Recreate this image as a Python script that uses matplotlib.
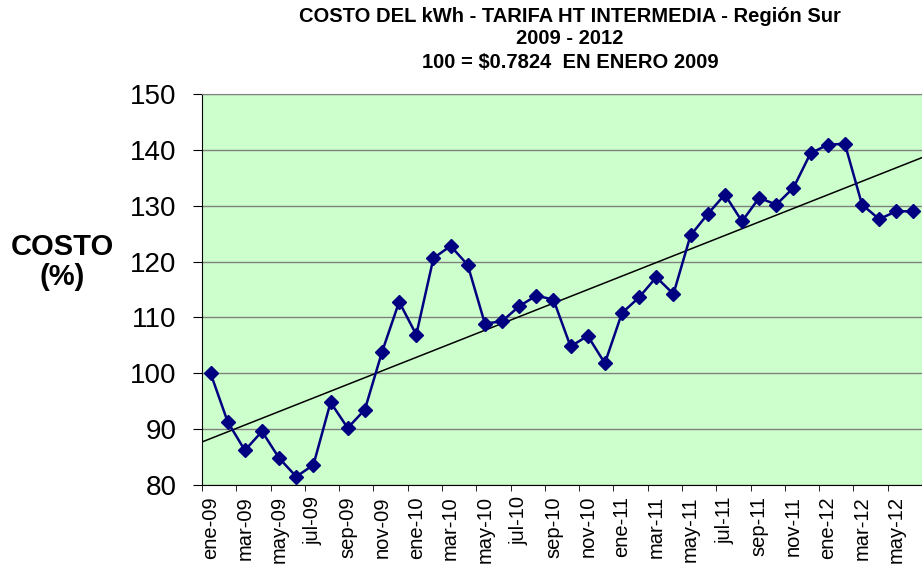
import numpy as np
import matplotlib
matplotlib.use("Agg")
import matplotlib.pyplot as plt

plt.rcParams['font.family'] = ['Liberation Sans', 'DejaVu Sans']

# meses ene-09 .. jun-12
meses = ['ene', 'feb', 'mar', 'abr', 'may', 'jun',
         'jul', 'ago', 'sep', 'oct', 'nov', 'dic']
anios = ['09', '10', '11', '12']
etiquetas = [m + '-' + a for a in anios for m in meses][:42]

costo = [100.0, 91.3, 86.2, 89.6, 84.8, 81.5, 83.6, 94.8, 90.2, 93.5,
         103.8, 112.8, 106.9, 120.6, 122.8, 119.4, 108.9, 109.3, 112.0, 113.9,
         113.2, 104.8, 106.7, 101.8, 110.8, 113.6, 117.2, 114.2, 124.7, 128.5,
         132.0, 127.2, 131.4, 130.2, 133.2, 139.4, 140.9, 141.1, 130.2, 127.6,
         129.0, 129.0]

x = np.arange(len(costo))
coef = np.polyfit(x, costo, 1)

fig = plt.figure(figsize=(9.22, 5.64), dpi=100)
ax = fig.add_axes([202 / 922, 79 / 564, 1 - 202 / 922, (485 - 94) / 564])
ax.set_facecolor('#CCFFCC')

xt = np.array([-0.5, 42])
ax.plot(xt, np.polyval(coef, xt), color='black', lw=1.1, zorder=2)
ax.plot(x, costo, color='#000080', lw=1.8, marker='D', markersize=6.8,
        markerfacecolor='#000080', markeredgecolor='#000080', zorder=3,
        clip_on=False)

ax.set_xlim(-0.5, 41.0)
ax.set_ylim(80, 150)
ax.set_yticks(range(80, 151, 10))
ax.yaxis.grid(True, color='#808080', lw=1)
ax.set_axisbelow(True)
ax.tick_params(axis='y', labelsize=20, length=6.5, direction='out', pad=12)

ax.set_xticks(x[::2])
ax.set_xticklabels(etiquetas[::2], rotation=90, fontsize=14.5)
ax.set_xticks(np.arange(-0.5, 42, 2), minor=True)
ax.tick_params(axis='x', which='major', length=0, pad=8)
ax.tick_params(axis='x', which='minor', length=4, direction='out')

ax.spines['right'].set_visible(False)
ax.spines['top'].set_color('#808080')
ax.spines['left'].set_color('black')
ax.spines['bottom'].set_color('black')

fig.text(570 / 922, 1 - 16 / 564, 'COSTO DEL kWh - TARIFA HT INTERMEDIA - Región Sur',
         ha='center', va='center', fontsize=14.5, fontweight='bold')
fig.text(570 / 922, 1 - 39 / 564, '2009 - 2012',
         ha='center', va='center', fontsize=14.5, fontweight='bold')
fig.text(570 / 922, 1 - 62 / 564, '100 = $0.7824  EN ENERO 2009',
         ha='center', va='center', fontsize=14.5, fontweight='bold')
fig.text(62 / 922, 1 - 262 / 564, 'COSTO\n(%)', ha='center', va='center',
         fontsize=21, fontweight='bold', linespacing=1.05)

fig.savefig('out.png', dpi=100)
